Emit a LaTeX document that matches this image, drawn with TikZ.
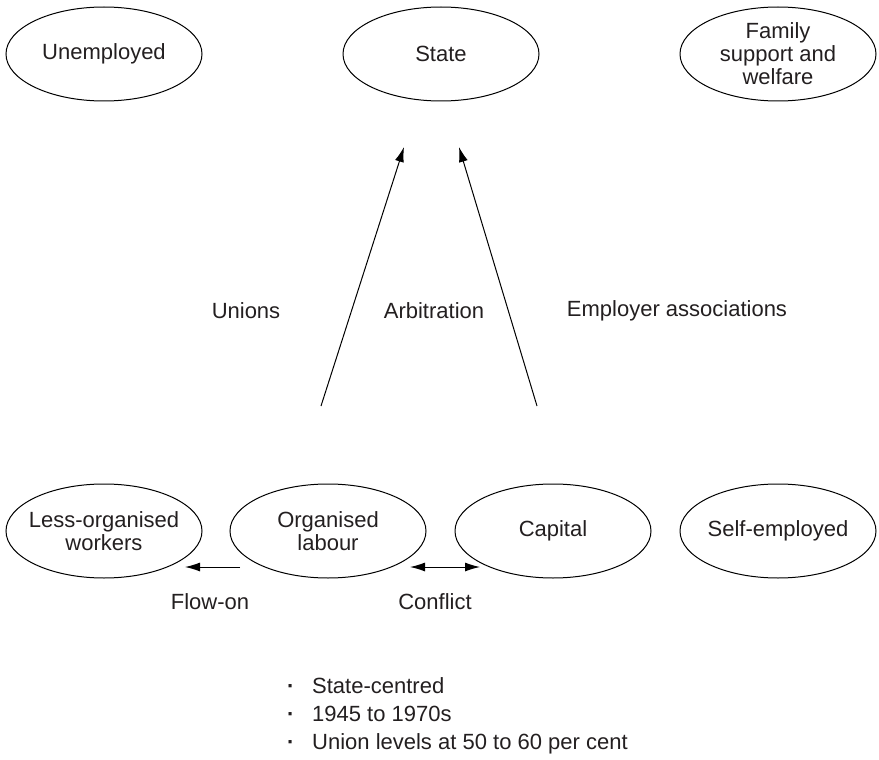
\documentclass[tikz,border=0pt]{standalone}
\usepackage{fontspec}
\setmainfont{Liberation Sans}
\usetikzlibrary{shapes.geometric,arrows.meta}
\definecolor{ink}{RGB}{35,31,32}
\tikzset{
  blob/.style={ellipse, draw=black, line width=1pt, minimum width=196pt,
    minimum height=94pt, inner sep=-15pt, align=center, text=ink,
    font=\fontsize{22}{23}\selectfont},
  lbl/.style={text=ink, inner sep=0pt, font=\fontsize{22}{23}\selectfont},
  tip/.tip={Latex[length=15pt,width=9pt]},
  conn/.style={line width=1pt, draw=black, -tip},
  conn2/.style={line width=1pt, draw=black, tip-tip}
}
\begin{document}
\begin{tikzpicture}[x=1pt,y=-1pt]
\useasboundingbox (0,0) rectangle (879,760);

% top row
\node[blob] (unemp) at (104,54) {Unemployed};
\node[blob] (state) at (441,54) {State};
\node[blob] (family) at (778,54) {Family\\support and\\welfare};

% bottom row
\node[blob] (less) at (104,531) {Less-organised\\workers};
\node[blob] (org) at (328,531) {Organised\\labour};
\node[blob] (cap) at (553,531) {Capital};
\node[blob] (self) at (778,531) {Self-employed};

% channels into the state
\coordinate (uL) at (321,406);
\coordinate (uT) at (404,147);
\coordinate (eR) at (537,406);
\coordinate (eT) at (459,147);
\draw[conn] (uL) -- (uT);
\draw[conn] (eR) -- (eT);

\node[lbl] (unions) at (246,311) {Unions};
\node[lbl] (arb) at (434,311) {Arbitration};
\node[lbl] (emp) at (677,311) {Employer associations};

% relations along the bottom row
\coordinate (fA) at (240,567);
\coordinate (fB) at (185,567);
\coordinate (cA) at (410,567);
\coordinate (cB) at (480,567);
\draw[conn] (fA) -- (fB);
\draw[conn2] (cA) -- (cB);

\node[lbl] (flow) at (210,602) {Flow-on};
\node[lbl] (confl) at (435,602) {Conflict};

% summary list (base anchor sits on the last line)
\node[lbl, anchor=base west, align=left, font=\fontsize{22}{28}\selectfont]
  (notes) at (287,749)
  {\makebox[25pt][l]{\textbf{·}}State-centred\\
   \makebox[25pt][l]{\textbf{·}}1945 to 1970s\\
   \makebox[25pt][l]{\textbf{·}}Union levels at 50 to 60 per cent};
\end{tikzpicture}
\end{document}
